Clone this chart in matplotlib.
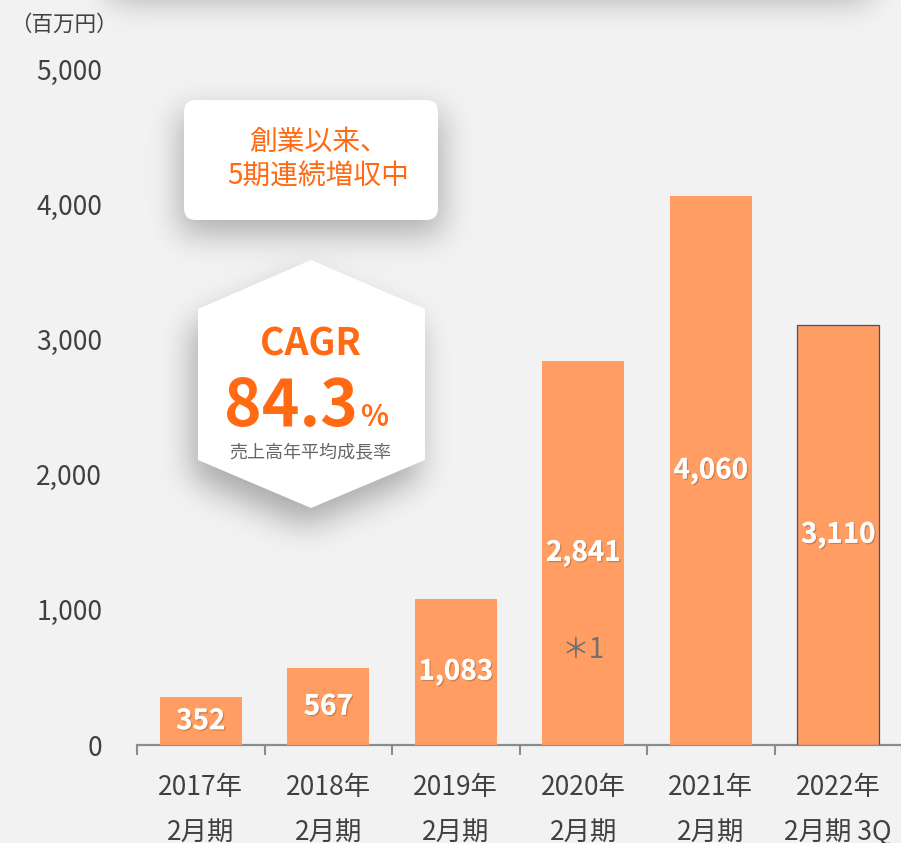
import numpy as np
import matplotlib
matplotlib.use("Agg")
import matplotlib.pyplot as plt
from matplotlib.patches import FancyBboxPatch, Polygon
from matplotlib.path import Path
from matplotlib import patheffects as pe

plt.rcParams["font.family"] = ["Noto Sans CJK JP", "DejaVu Sans"]

# data
categories = ["2017年\n2月期", "2018年\n2月期", "2019年\n2月期",
              "2020年\n2月期", "2021年\n2月期", "2022年\n2月期 3Q"]
sales = [352, 567, 1083, 2841, 4060, 3110]
value_labels = ["352", "567", "1,083", "2,841", "4,060", "3,110"]
yticks = [0, 1000, 2000, 3000, 4000, 5000]
ytick_labels = ["0", "1,000", "2,000", "3,000", "4,000", "5,000"]
unit_label = "（百万円）"
note_label = "＊1"
note_index, note_value = 3, 700
headline = "創業以来、\n5期連続増収中"
cagr_title = "CAGR"
cagr_value = "84.3"
cagr_caption = "売上高年平均成長率"

bg = "#f2f2f2"
bar_color = "#ff9d63"
orange = "#ff6a13"
text_gray = "#404040"

W, H = 901, 843
fig = plt.figure(figsize=(W / 100, H / 100), dpi=100, facecolor=bg)

# main bar chart
ax = fig.add_axes([137 / W, 1 - 745 / H, 765 / W, (745 - 69) / H])
ax.set_facecolor("none")
x = np.arange(len(sales))
bars = ax.bar(x, sales, width=0.64, color=bar_color, zorder=3)
bars[-1].set_edgecolor("#2f5597")
bars[-1].set_linewidth(0.9)

ax.set_xlim(-0.5, len(sales) - 0.5)
ax.set_ylim(0, 5000)
ax.set_yticks(yticks)
ax.set_yticklabels(ytick_labels, fontsize=19, color=text_gray)
ax.set_xticks(x)
ax.set_xticklabels(categories, fontsize=19, color=text_gray, linespacing=1.85)
ax.set_xticks(np.arange(-0.5, len(sales)), minor=True)
ax.tick_params(axis="y", length=0, pad=25)
ax.tick_params(axis="x", which="major", length=0, pad=21)
ax.tick_params(axis="x", which="minor", length=7, width=1.5, color="#8c8c8c")
for side in ["top", "right", "left"]:
    ax.spines[side].set_visible(False)
ax.spines["bottom"].set_color("#8c8c8c")
ax.spines["bottom"].set_linewidth(1.6)

shadow = [pe.withSimplePatchShadow(offset=(1, -1), shadow_rgbFace="#7a4a2a", alpha=0.35), pe.Normal()]
for xi, v, lab in zip(x, sales, value_labels):
    ax.text(xi, v / 2, lab, ha="center", va="center", color="white",
            fontsize=20, fontweight="bold", zorder=4, path_effects=shadow)
ax.text(note_index, note_value, note_label, ha="center", va="center",
        fontsize=20, color="#707070", zorder=4)

# overlay in pixel coordinates for the callouts
ov = fig.add_axes([0, 0, 1, 1], zorder=5)
ov.set_xlim(0, W)
ov.set_ylim(H, 0)
ov.axis("off")
ov.patch.set_alpha(0)

# box and hexagon outlines (pixels)
bx, by, bw, bh = 184, 100, 254, 120
hx = np.array([311, 425, 425, 311, 198, 198])
hy = np.array([260, 309, 460, 508, 460, 309])


def blur(a, sigma):
    k = np.arange(-3 * sigma, 3 * sigma + 1)
    k = np.exp(-k ** 2 / (2 * sigma ** 2))
    k /= k.sum()
    a = np.apply_along_axis(lambda r: np.convolve(r, k, mode="same"), 1, a)
    return np.apply_along_axis(lambda c: np.convolve(c, k, mode="same"), 0, a)


# soft drop shadows rendered as one image
pad = 80
gy, gx = np.mgrid[0:H + 2 * pad, 0:W + 2 * pad] - pad + 0.5
pts = np.column_stack([gx.ravel(), gy.ravel()])
shade = np.zeros(gx.shape)
shade += 0.32 * ((gx > 110) & (gx < 870) & (gy < -2))
box_path = Path([(bx - 4, by + 12), (bx + bw + 4, by + 12),
                 (bx + bw + 4, by + bh + 14), (bx - 4, by + bh + 14)])
shade += 0.28 * box_path.contains_points(pts).reshape(gx.shape)
hex_path = Path(np.column_stack([hx - 6, hy + 18]))
shade += 0.30 * hex_path.contains_points(pts).reshape(gx.shape)
shade = blur(shade, 16)[pad:-pad, pad:-pad]
img = np.zeros((H, W, 4))
img[..., 3] = np.clip(shade, 0, 1)
ov.imshow(img, extent=(0, W, H, 0), aspect="auto", zorder=0, interpolation="bilinear")

ov.text(10, 25, unit_label, ha="left", va="center", fontsize=15.5, color=text_gray)

ov.add_patch(FancyBboxPatch((bx, by), bw, bh, boxstyle="round,pad=0,rounding_size=12",
                            fc="white", ec="none", zorder=2))
ov.text(318, 159, headline, ha="center", va="center", fontsize=20,
        color=orange, linespacing=1.2, zorder=3)

ov.add_patch(Polygon(np.column_stack([hx, hy]), closed=True, fc="white", ec="none", zorder=2))
ov.text(311, 344, cagr_title, ha="center", va="center", fontsize=27,
        fontweight="bold", color=orange, zorder=3)
ov.text(358, 426, cagr_value, ha="right", va="baseline", fontsize=46,
        fontweight="bold", color=orange, zorder=3)
ov.text(360, 426, "%", ha="left", va="baseline", fontsize=21,
        fontweight="bold", color=orange, zorder=3)
ov.text(310, 453, cagr_caption, ha="center", va="center", fontsize=13,
        color="#666666", zorder=3)

fig.savefig("out.png", dpi=100, facecolor=bg)
